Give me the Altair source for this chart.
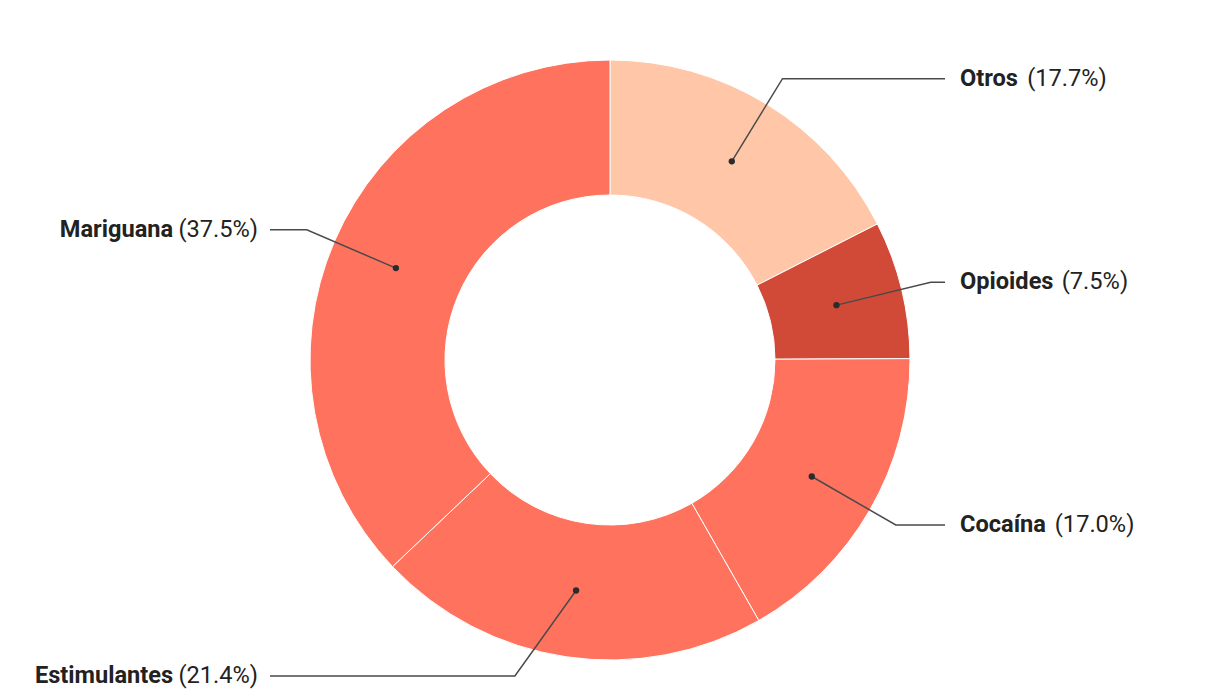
import math
import altair as alt
import pandas as pd

categorias = ["Otros", "Opioides", "Cocaína", "Estimulantes", "Mariguana"]
porcentajes = [17.7, 7.5, 17.0, 21.4, 37.5]
etiquetas_pct = ["(17.7%)", "(7.5%)", "(17.0%)", "(21.4%)", "(37.5%)"]
colores = ["#FFC6A8", "#D14A38", "#FF735E", "#FF735E", "#FF735E"]

# layout (plot-area pixels)
W, H = 1204, 684
CX, CY = 602, 352
R_OUT, R_IN = 300, 165
R_DOT, R_ELBOW = 233, 330
Y_LIMIT = 316
X_RIGHT_END, X_LEFT_END = 937, 262
X_RIGHT_TXT, X_LEFT_TXT = 952, 250
FS = 23.6

BOLD = {"O": 1382, "C": 1336, "E": 1163, "M": 1778, "a": 1090, "c": 1074, "d": 1125,
        "e": 1087, "g": 1138, "i": 528, "í": 528, "l": 528, "m": 1754, "n": 1112,
        "o": 1147, "p": 1126, "r": 712, "s": 1061, "t": 683, "u": 1112, " ": 498}
REG = {"(": 699, ")": 712, "%": 1465, ".": 538, " ": 507}


def tw(s, table, default=1150):
    return sum(table.get(ch, default) for ch in s) / 2048 * FS


total = sum(porcentajes)
arc_rows, line_rows, dot_rows, name_rows, pct_rows = [], [], [], [], []
acc = 0.0
for i, (c, v, p) in enumerate(zip(categorias, porcentajes, etiquetas_pct)):
    mid = (acc + v / 2) / total * 2 * math.pi
    acc += v
    arc_rows.append({"cat": c, "val": v, "idx": i})
    dx, dy = math.sin(mid), -math.cos(mid)
    x0, y0 = CX + R_DOT * dx, CY + R_DOT * dy
    ey = max(-Y_LIMIT, min(Y_LIMIT, R_ELBOW * dy))
    ex = math.copysign(math.sqrt(R_ELBOW ** 2 - ey ** 2), dx)
    x1, y1 = CX + ex, CY + ey
    right = dx >= 0
    x2 = X_RIGHT_END if right else X_LEFT_END
    for s, (xx, yy) in enumerate([(x0, y0), (x1, y1), (x2, y1)]):
        line_rows.append({"cat": c, "step": s, "x": xx, "y": yy})
    dot_rows.append({"cat": c, "x": x0, "y": y0})
    space = 0.245 * FS
    if right:
        name_rows.append({"t": c, "x": X_RIGHT_TXT, "y": y1, "al": "left"})
        pct_rows.append({"t": p, "x": X_RIGHT_TXT + tw(c, BOLD) + space + 4, "y": y1, "al": "left"})
    else:
        pct_rows.append({"t": p, "x": X_LEFT_TXT, "y": y1, "al": "right"})
        name_rows.append({"t": c, "x": X_LEFT_TXT - tw(p, REG) - space, "y": y1, "al": "right"})

xs = alt.Scale(domain=[0, W], range=[0, W])
ys = alt.Scale(domain=[0, H], range=[0, H])
X = lambda: alt.X("x:Q", scale=xs, axis=None)
Y = lambda: alt.Y("y:Q", scale=ys, axis=None)

arcs = alt.Chart(pd.DataFrame(arc_rows)).mark_arc(
    outerRadius=R_OUT, innerRadius=R_IN, stroke="white", strokeWidth=1
).encode(
    theta=alt.Theta("val:Q", stack=True),
    order=alt.Order("idx:Q"),
    color=alt.Color("cat:N", scale=alt.Scale(domain=categorias, range=colores), legend=None),
    x=alt.value(CX),
    y=alt.value(CY),
)

lines = alt.Chart(pd.DataFrame(line_rows)).mark_line(color="#4a4a4a", strokeWidth=1.5).encode(
    x=X(), y=Y(), detail="cat:N", order=alt.Order("step:Q")
)
dots = alt.Chart(pd.DataFrame(dot_rows)).mark_circle(color="#2b2b2b", size=40, opacity=1).encode(
    x=X(), y=Y()
)

def texts(rows, align, weight):
    df = pd.DataFrame([r for r in rows if r["al"] == align])
    return alt.Chart(df).mark_text(
        align=align, baseline="middle", font="Roboto", fontSize=FS,
        fontWeight=weight, color="#222222"
    ).encode(x=X(), y=Y(), text="t:N")

layers = [arcs, lines, dots,
          texts(name_rows, "left", "bold"), texts(name_rows, "right", "bold"),
          texts(pct_rows, "left", "normal"), texts(pct_rows, "right", "normal")]

chart = alt.layer(*layers).properties(width=W, height=H, padding=0).configure_view(stroke=None)
chart.save("out.html", embed_options={"renderer": "svg", "actions": False})
